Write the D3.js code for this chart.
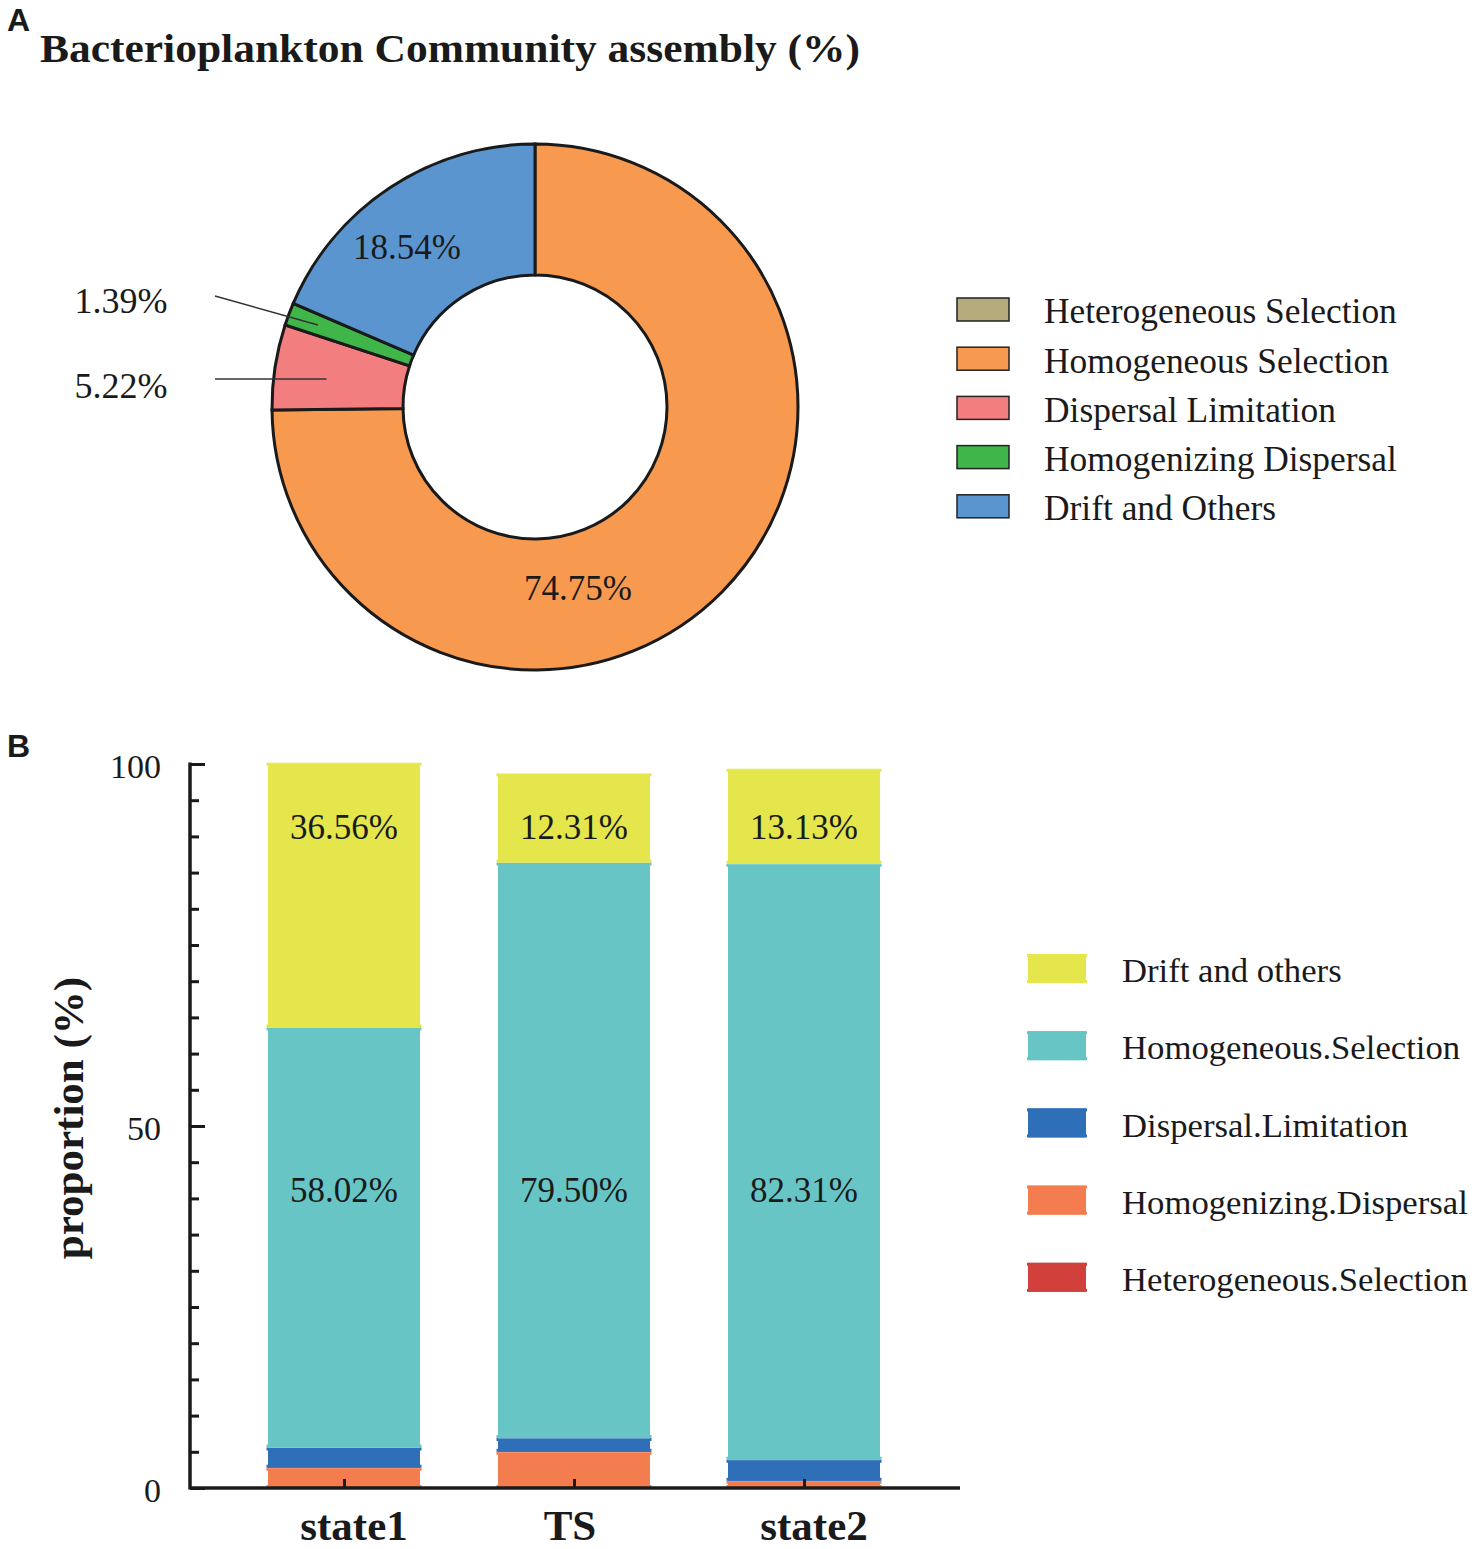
<!DOCTYPE html>
<html>
<head>
<meta charset="utf-8">
<script src="https://cdn.jsdelivr.net/npm/d3@7"></script>
<style>
  body { margin: 0; background: #fff; }
  svg { display: block; }
  text { font-family: "Liberation Serif", "Times New Roman", serif; fill: #1a1a1a; }
</style>
</head>
<body>
<svg id="chart" width="1476" height="1549"></svg>
<script>
// ---- panel A data (donut) ----
const pieNames = ["Heterogeneous Selection", "Homogeneous Selection", "Dispersal Limitation",
                  "Homogenizing Dispersal", "Drift and Others"];
const pieValues = [0, 74.75, 5.22, 1.39, 18.54];
const pieColors = ["#b5aa7c", "#f7994f", "#f27e80", "#3fb54a", "#5a95d0"];

// ---- panel B data (stacked bars) ----
const groups = ["state1", "TS", "state2"];
const barNames = ["Heterogeneous.Selection", "Homogenizing.Dispersal", "Dispersal.Limitation",
                  "Homogeneous.Selection", "Drift and others"];
const heteroSel = [0, 0, 0];
const homogDisp = [2.8, 5.0, 1.0];
const dispLim = [2.8, 1.9, 2.9];
const homogSel = [58.02, 79.50, 82.31];
const drift = [36.56, 12.31, 13.13];
const barColors = ["#d2403b", "#f47d4f", "#2e6fb8", "#67c6c5", "#e5e64c"];
const yTicks = [0, 50, 100];

const svg = d3.select("#chart");

// panel letters
svg.append("text").attr("x", 7).attr("y", 31)
  .style("font-family", "Liberation Sans, Arial, sans-serif")
  .style("font-weight", "bold").style("font-size", "32px").text("A");
svg.append("text").attr("x", 7).attr("y", 757)
  .style("font-family", "Liberation Sans, Arial, sans-serif")
  .style("font-weight", "bold").style("font-size", "32px").text("B");

// title
svg.append("text").attr("x", 40).attr("y", 62)
  .style("font-weight", "bold").style("font-size", "40px")
  .attr("textLength", 820).attr("lengthAdjust", "spacingAndGlyphs")
  .text("Bacterioplankton Community assembly (%)");

// ================= panel A =================
const cx = 535, cy = 407, rOuter = 263, rInner = 132;
const pie = d3.pie().sort(null).value(d => d)(pieValues);
const arc = d3.arc().innerRadius(rInner).outerRadius(rOuter);
const gA = svg.append("g").attr("transform", `translate(${cx},${cy})`);

gA.selectAll("path.slice")
  .data(pie.filter(d => d.data > 0))
  .enter().append("path")
  .attr("class", "slice")
  .attr("d", arc)
  .attr("fill", d => pieColors[d.index])
  .attr("stroke", "#1a1a1a")
  .attr("stroke-width", 3);

// inside labels for the large slices
const insideLab = { 1: [43, 181], 4: [-128, -160] };
gA.selectAll("text.inlab")
  .data(pie.filter(d => d.index === 1 || d.index === 4))
  .enter().append("text")
  .attr("class", "inlab")
  .attr("x", d => insideLab[d.index][0])
  .attr("y", d => insideLab[d.index][1])
  .attr("text-anchor", "middle")
  .attr("dy", "0.35em")
  .style("font-size", "35px")
  .text(d => d.data.toFixed(2) + "%");

// outside labels with leader lines for the small slices
const outside = [
  { index: 2, ly: -28, ty: -22, r: 211 },
  { index: 3, ly: -111, ty: -107, r: 232 }
];
outside.forEach(o => {
  const p = pie[o.index];
  const [ex, ey] = d3.arc().innerRadius(o.r).outerRadius(o.r).centroid(p);
  gA.append("line")
    .attr("x1", 215 - cx).attr("y1", o.ly)
    .attr("x2", ex).attr("y2", o.index === 2 ? o.ly : ey)
    .attr("stroke", "#333").attr("stroke-width", 1.5);
  gA.append("text")
    .attr("x", 121 - cx).attr("y", o.ty)
    .attr("text-anchor", "middle").attr("dy", "0.35em")
    .style("font-size", "36px")
    .text(p.data.toFixed(2) + "%");
});

// legend A
const legA = svg.append("g").attr("transform", "translate(957,298)");
pieNames.forEach((n, i) => {
  const g = legA.append("g").attr("transform", `translate(0,${i * 49.2})`);
  g.append("rect").attr("width", 52).attr("height", 23)
    .attr("fill", pieColors[i]).attr("stroke", "#222").attr("stroke-width", 1.5);
  g.append("text").attr("x", 87).attr("y", 13).attr("dy", "0.35em")
    .style("font-size", "35.4px").text(n);
});

// ================= panel B =================
const plot = { left: 190, right: 960, top: 764, bottom: 1488 };
const x = d3.scalePoint().domain(groups).range([344, 804]);
const bw = 152;
const y = d3.scaleLinear().domain([0, 100]).range([plot.bottom, plot.top]);

const rows = groups.map((g, i) => ({
  group: g,
  "Heterogeneous.Selection": heteroSel[i],
  "Homogenizing.Dispersal": homogDisp[i],
  "Dispersal.Limitation": dispLim[i],
  "Homogeneous.Selection": homogSel[i],
  "Drift and others": drift[i]
}));
const series = d3.stack().keys(barNames)(rows);

const gB = svg.append("g");
series.forEach((s, si) => {
  s.forEach(d => {
    if (d[1] - d[0] <= 0) return;
    const x0 = x(d.data.group) - bw / 2;
    const y1 = y(d[1]), y0 = y(d[0]);
    gB.append("rect")
      .attr("x", x0).attr("y", y1)
      .attr("width", bw).attr("height", y0 - y1)
      .attr("fill", barColors[si]);
    // slight flared caps at the segment ends
    gB.append("rect").attr("x", x0 - 1.5).attr("y", y1)
      .attr("width", bw + 3).attr("height", 3).attr("fill", barColors[si]);
    gB.append("rect").attr("x", x0 - 1.5).attr("y", y0 - 3)
      .attr("width", bw + 3).attr("height", 3).attr("fill", barColors[si]);
    gB.append("line").attr("x1", x0).attr("x2", x0 + bw)
      .attr("y1", y1).attr("y2", y1)
      .attr("stroke", "#fff").attr("stroke-opacity", 0.55).attr("stroke-width", 1);
  });
});

// value labels for the two big segments (fixed rows, as in the figure)
const labelRow = { "Drift and others": 91.3, "Homogeneous.Selection": 41.2 };
[["Homogeneous.Selection", homogSel], ["Drift and others", drift]].forEach(([key, vals]) => {
  groups.forEach((g, i) => {
    gB.append("text")
      .attr("x", x(g)).attr("y", y(labelRow[key]))
      .attr("text-anchor", "middle").attr("dy", "0.35em")
      .style("font-size", "35px")
      .text(vals[i].toFixed(2) + "%");
  });
});

// y axis
const yAxis = d3.axisRight(y).tickValues(d3.range(0, 101, 5)).tickSize(9).tickFormat("");
const gy = svg.append("g").attr("transform", `translate(${plot.left},0)`).call(yAxis);
gy.select(".domain").remove();
gy.selectAll(".tick line").attr("stroke", "#1a1a1a").attr("stroke-width", 3)
  .attr("x2", d => yTicks.includes(d) ? 15 : 9);
svg.append("line").attr("x1", plot.left).attr("x2", plot.left)
  .attr("y1", plot.top - 1.5).attr("y2", plot.bottom + 1.5)
  .attr("stroke", "#1a1a1a").attr("stroke-width", 3.5);
svg.selectAll("text.ytick").data(yTicks).enter().append("text")
  .attr("class", "ytick")
  .attr("x", 161).attr("y", d => y(d) + 2).attr("dy", "0.35em")
  .attr("text-anchor", "end").style("font-size", "34px")
  .text(d => d);

// x axis
svg.append("line").attr("x1", plot.left).attr("x2", plot.right)
  .attr("y1", plot.bottom).attr("y2", plot.bottom)
  .attr("stroke", "#1a1a1a").attr("stroke-width", 3.5);
const xAxis = d3.axisTop(x).tickSize(9).tickFormat("");
const gx = svg.append("g").attr("transform", `translate(0,${plot.bottom})`).call(xAxis);
gx.select(".domain").remove();
gx.selectAll(".tick line").attr("stroke", "#1a1a1a").attr("stroke-width", 3);
svg.selectAll("text.xlab").data(groups).enter().append("text")
  .attr("class", "xlab")
  .attr("x", d => x(d) + (d === "TS" ? -4 : 10)).attr("y", 1540)
  .attr("text-anchor", "middle")
  .style("font-weight", "bold").style("font-size", "43px")
  .text(d => d);

// y label
svg.append("text")
  .attr("transform", "translate(83,1118) rotate(-90)")
  .attr("text-anchor", "middle")
  .style("font-weight", "bold").style("font-size", "43px")
  .text("proportion (%)");

// legend B (top to bottom: reverse stack order)
const legB = svg.append("g").attr("transform", "translate(1027,954)");
barNames.slice().reverse().forEach((n, i) => {
  const ci = barNames.length - 1 - i;
  const g = legB.append("g").attr("transform", `translate(0,${i * 77.2})`);
  g.append("rect").attr("x", 1).attr("width", 58).attr("height", 29).attr("fill", barColors[ci]);
  g.append("rect").attr("x", 0).attr("width", 60).attr("height", 3).attr("fill", barColors[ci]);
  g.append("rect").attr("x", 0).attr("y", 26).attr("width", 60).attr("height", 3).attr("fill", barColors[ci]);
  g.append("text").attr("x", 95).attr("y", 16).attr("dy", "0.35em")
    .style("font-size", "34.7px").text(n);
});
</script>
</body>
</html>
